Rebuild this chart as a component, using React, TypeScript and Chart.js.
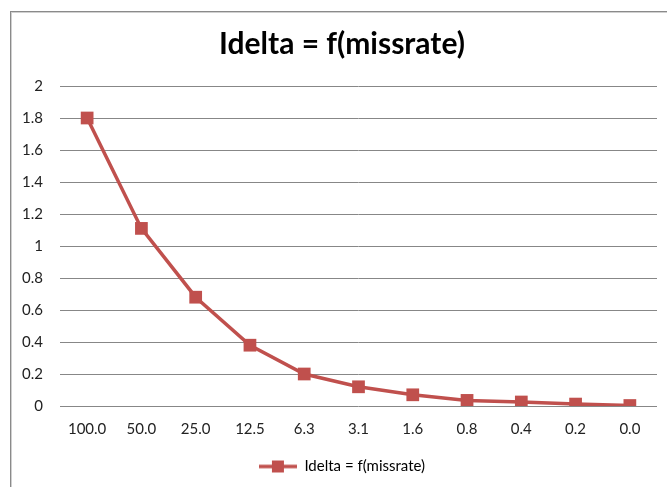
import React, { useEffect, useRef } from "react";
import { Chart, registerables } from "chart.js";

Chart.register(...registerables);

const categories: string[] = ["100.0", "50.0", "25.0", "12.5", "6.3", "3.1", "1.6", "0.8", "0.4", "0.2", "0.0"];
const idelta: number[] = [1.8, 1.11, 0.68, 0.38, 0.2, 0.12, 0.07, 0.035, 0.025, 0.012, 0.003];
const seriesName = "Idelta = f(missrate)";
const chartTitle = "Idelta = f(missrate)";
const yMin = 0;
const yMax = 2;
const yStep = 0.2;

const RED = "#C0504D";
const GRID = "#878787";
const FONT = "Lato, 'Open Sans', sans-serif";

const framePlugin = {
  id: "frame",
  beforeDraw(chart: any) {
    const ctx = chart.ctx;
    ctx.save();
    ctx.fillStyle = "#ffffff";
    ctx.fillRect(0, 0, chart.width, chart.height);
    ctx.fillStyle = "#8a8a8a";
    ctx.fillRect(10, 11, 1, chart.height - 11);
    ctx.fillRect(10, 11, chart.width - 10, 1);
    ctx.fillStyle = "#d0d0d0";
    ctx.fillRect(11, 12, 1, chart.height - 12);
    ctx.fillRect(11, 12, chart.width - 11, 1);
    ctx.restore();
  },
};

function legendIcon(): HTMLCanvasElement {
  const c = document.createElement("canvas");
  c.width = 38;
  c.height = 14;
  const g = c.getContext("2d")!;
  g.strokeStyle = RED;
  g.lineWidth = 3.5;
  g.beginPath();
  g.moveTo(0, 7);
  g.lineTo(38, 7);
  g.stroke();
  g.fillStyle = RED;
  g.fillRect(13, 1, 12, 12);
  return c;
}

export default function App() {
  const ref = useRef<HTMLCanvasElement | null>(null);

  useEffect(() => {
    if (!ref.current) return;
    const icon = legendIcon();
    const chart = new Chart(ref.current, {
      type: "line",
      data: {
        labels: categories,
        datasets: [
          {
            label: seriesName,
            data: idelta,
            borderColor: RED,
            backgroundColor: RED,
            borderWidth: 3.5,
            tension: 0,
            pointStyle: "rect",
            pointRadius: 9,
            pointHoverRadius: 9,
            pointBackgroundColor: RED,
            pointBorderColor: RED,
            pointBorderWidth: 0,
          },
        ],
      },
      options: {
        animation: false,
        responsive: false,
        maintainAspectRatio: false,
        layout: { padding: { left: 27, right: 10, top: 0, bottom: 3 } },
        plugins: {
          title: {
            display: true,
            text: chartTitle,
            color: "#000000",
            font: { family: FONT, size: 30, weight: "bold" },
            padding: { top: 26, bottom: 24 },
          },
          legend: {
            display: true,
            position: "bottom",
            labels: {
              usePointStyle: true,
              pointStyleWidth: 38,
              color: "#222222",
              font: { family: FONT, size: 15 },
              padding: 15,
              generateLabels: () => [
                {
                  text: seriesName,
                  pointStyle: icon as any,
                  fillStyle: RED,
                  strokeStyle: RED,
                  lineWidth: 0,
                  hidden: false,
                  datasetIndex: 0,
                },
              ],
            },
          },
          tooltip: { enabled: false },
        },
        scales: {
          x: {
            offset: true,
            grid: { display: false },
            border: { display: false },
            ticks: {
              color: "#222222",
              font: { family: FONT, size: 15 },
              padding: 6,
              maxRotation: 0,
              autoSkip: false,
            },
          },
          y: {
            min: yMin,
            max: yMax,
            grid: { color: GRID, lineWidth: 1, drawTicks: false },
            border: { display: false },
            afterFit: (scale: any) => {
              scale.width = 33;
              scale._computeLabelArea = () => undefined;
            },
            ticks: {
              stepSize: yStep,
              color: "#222222",
              font: { family: FONT, size: 15 },
              padding: 17,
              callback: (v: any) => String(+Number(v).toFixed(1)),
            },
          },
        },
      },
      plugins: [framePlugin],
    });
    return () => chart.destroy();
  }, []);

  return (
    <div style={{ position: "fixed", left: 0, top: 0, width: 667, height: 487, overflow: "hidden", background: "#fff" }}>
      <canvas ref={ref} width={667} height={487} style={{ display: "block", width: 667, height: 487 }} />
    </div>
  );
}
